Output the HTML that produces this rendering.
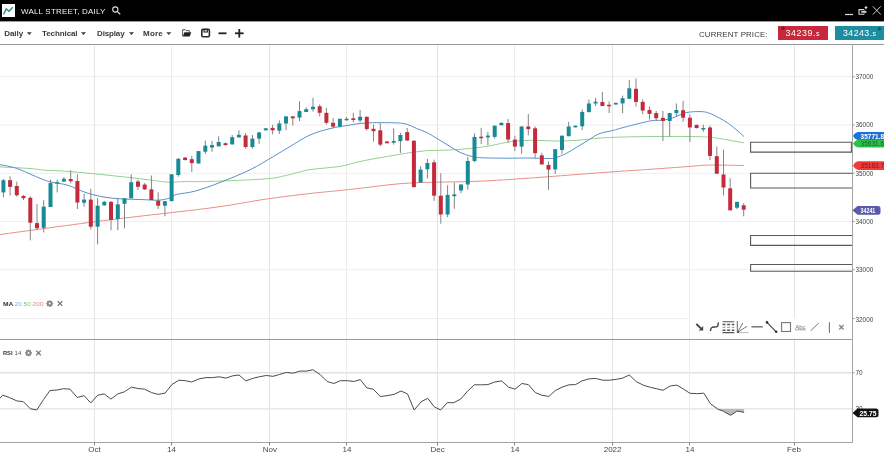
<!DOCTYPE html>
<html><head><meta charset="utf-8">
<style>
html,body{margin:0;padding:0;background:#fff;}
body{width:884px;height:459px;overflow:hidden;position:relative;font-family:"Liberation Sans",sans-serif;}
svg{position:absolute;left:0;top:0;will-change:transform;}
</style></head><body>
<svg width="884" height="459" viewBox="0 0 884 459" font-family="&quot;Liberation Sans&quot;, sans-serif">

<!-- title bar -->
<rect x="0" y="0" width="884" height="21" fill="#000"/>
<rect x="0" y="21" width="884" height="1" fill="#9a9a9a"/>
<rect x="2" y="4" width="13" height="13" fill="#fff"/>
<polyline points="3.6,14.4 6.2,8.9 9.1,11.3 12.7,7.2" fill="none" stroke="#2a8a8a" stroke-width="1.3"/>
<text x="21" y="14.1" fill="#eee" font-size="8" textLength="84.3" lengthAdjust="spacing">WALL STREET, DAILY</text>
<circle cx="115.3" cy="9.5" r="2.6" fill="none" stroke="#ddd" stroke-width="1.1"/>
<line x1="117.2" y1="11.4" x2="120.2" y2="14.3" stroke="#ddd" stroke-width="1.3"/>
<!-- window controls -->
<line x1="845" y1="14.5" x2="853" y2="14.5" stroke="#ddd" stroke-width="1.2"/>
<path d="M863.7 10.3 V9.6 H859 V14.3 H863.7 V13.6" fill="none" stroke="#ddd" stroke-width="1.1"/>
<path d="M861.2 11.1 H864.5 V10 L867 11.9 L864.5 13.8 V12.7 H861.2 Z" fill="#ccc"/>
<path d="M866 6 L867.6 7.6 L866 9.2 L864.4 7.6 Z" fill="#ddd"/>
<path d="M872.8 6.3 L880.8 14.6 M880.8 6.3 L872.8 14.6" stroke="#ccc" stroke-width="1"/>

<!-- toolbar -->
<g font-size="8" font-weight="bold" fill="#3a3a3a">
<text x="4.2" y="35.7" textLength="19">Daily</text>
<text x="42" y="35.7" textLength="35.6">Technical</text>
<text x="97" y="35.7" textLength="27.6">Display</text>
<text x="143.1" y="35.7" textLength="19.6">More</text>
</g>
<g fill="#3a3a3a">
<path d="M26.8 32.3 h5 l-2.5 2.8z"/>
<path d="M81 32.3 h5 l-2.5 2.8z"/>
<path d="M129 32.3 h5 l-2.5 2.8z"/>
<path d="M166.3 32.3 h5 l-2.5 2.8z"/>
</g>
<!-- folder -->
<path d="M182.6 36.3 V29.7 H185.4 L186.2 30.6 H189.3 V32" fill="none" stroke="#444" stroke-width="0.9"/>
<path d="M182.8 36.6 L184.4 32.3 H191.3 L189.7 36.6 Z" fill="#222"/>
<!-- save -->
<rect x="201.8" y="29.4" width="7.6" height="7.4" rx="1.2" fill="none" stroke="#2a2a2a" stroke-width="1.6"/>
<rect x="204" y="29.4" width="3.4" height="2.6" fill="none" stroke="#2a2a2a" stroke-width="1.1"/>
<!-- minus / plus -->
<rect x="218.5" y="32.4" width="8" height="1.8" fill="#222"/>
<rect x="235" y="32.4" width="8.6" height="1.8" fill="#222"/>
<rect x="238.4" y="29" width="1.8" height="8.6" fill="#222"/>

<text x="699" y="36.7" fill="#3a3a3a" font-size="7.9" textLength="68.6" lengthAdjust="spacing">CURRENT PRICE:</text>
<rect x="778" y="26" width="50" height="14" fill="#c9283c"/>
<rect x="835" y="26" width="49" height="14" fill="#1c8e9f"/>
<circle cx="783" cy="28.3" r="1.7" fill="#8a1426"/>
<circle cx="879.3" cy="28.7" r="1.7" fill="#0f5a66"/>
<text x="785.5" y="35.8" fill="#fff" font-size="8.8" textLength="34" lengthAdjust="spacing">34239.<tspan font-size="7">s</tspan></text>
<text x="843" y="35.8" fill="#fff" font-size="8.8" textLength="33" lengthAdjust="spacing">34243.<tspan font-size="7">s</tspan></text>
<rect x="0" y="44" width="884" height="1" fill="#9a9a9a"/>

<!-- grid -->
<g stroke="#efefef" stroke-width="1">
<line x1="0" y1="76.7" x2="852" y2="76.7"/>
<line x1="0" y1="125" x2="852" y2="125"/>
<line x1="0" y1="173.3" x2="852" y2="173.3"/>
<line x1="0" y1="221.5" x2="852" y2="221.5"/>
<line x1="0" y1="269.7" x2="852" y2="269.7"/>
<line x1="0" y1="318.5" x2="852" y2="318.5"/>
<line x1="0" y1="372.7" x2="852" y2="372.7" stroke="#e2e2e2" stroke-width="1.4"/>
<line x1="0" y1="408.9" x2="852" y2="408.9" stroke="#e2e2e2" stroke-width="1.4"/>
</g>
<g stroke="#e4e4e4" stroke-width="1">
<line x1="94.5" y1="45" x2="94.5" y2="444"/>
<line x1="269.5" y1="45" x2="269.5" y2="444"/>
<line x1="437.5" y1="45" x2="437.5" y2="444"/>
<line x1="612.5" y1="45" x2="612.5" y2="444"/>
<line x1="794.5" y1="45" x2="794.5" y2="444"/>
</g>
<g stroke="#ececec" stroke-width="1">
<line x1="171.5" y1="45" x2="171.5" y2="444"/>
<line x1="346.5" y1="45" x2="346.5" y2="444"/>
<line x1="514.5" y1="45" x2="514.5" y2="444"/>
<line x1="689.5" y1="45" x2="689.5" y2="444"/>
</g>
<rect x="852" y="45" width="1" height="397" fill="#a6a6a6"/>
<rect x="0" y="339" width="852" height="1" fill="#9c9c9c"/>
<rect x="0" y="442" width="853" height="1" fill="#a4a4a4"/>

<!-- price axis labels -->
<g font-size="6.4" fill="#454545">
<text x="855.5" y="78.8">37000</text>
<text x="855.5" y="127.2">36000</text>
<text x="855.5" y="175.5">35000</text>
<text x="855.5" y="224">34000</text>
<text x="855.5" y="272.2">33000</text>
<text x="855.5" y="321.5">32000</text>
<text x="855.5" y="374.9">70</text>
<text x="855.5" y="411.2">30</text>
</g>
<g stroke="#999" stroke-width="1">
<line x1="852" y1="76.7" x2="854.5" y2="76.7"/>
<line x1="852" y1="125" x2="854.5" y2="125"/>
<line x1="852" y1="173.3" x2="854.5" y2="173.3"/>
<line x1="852" y1="221.5" x2="854.5" y2="221.5"/>
<line x1="852" y1="269.7" x2="854.5" y2="269.7"/>
<line x1="852" y1="318.5" x2="854.5" y2="318.5"/>
<line x1="852" y1="372.7" x2="854.5" y2="372.7"/>
</g>

<!-- date labels -->
<g stroke="#8a8a8a" stroke-width="1"><path d="M94.5 442 V445.5 M171.5 442 V445.5 M269.5 442 V445.5 M346.5 442 V445.5 M437.5 442 V445.5 M514.5 442 V445.5 M612.5 442 V445.5 M689.5 442 V445.5 M794.5 442 V445.5"/></g>
<g font-size="8" fill="#484848" text-anchor="middle">
<text x="94.5" y="452.1">Oct</text>
<text x="171.5" y="452.1">14</text>
<text x="269.8" y="452.1">Nov</text>
<text x="347" y="452.1">14</text>
<text x="437.7" y="452.1">Dec</text>
<text x="515" y="452.1">14</text>
<text x="612.6" y="452.1">2022</text>
<text x="690" y="452.1">14</text>
<text x="794" y="452.1">Feb</text>
</g>

<!-- MA lines -->
<path d="M0.0 234.5 C18.3 232.1 75.0 224.2 110.0 219.8 C145.0 215.4 184.1 211.4 210.0 208.0 C235.9 204.6 248.7 201.6 265.4 199.2 C282.1 196.8 297.6 194.9 310.0 193.5 C322.4 192.1 331.7 191.4 340.0 190.5 C348.3 189.6 348.3 189.6 360.0 188.3 C371.7 187.1 388.3 184.3 410.0 183.0 C431.7 181.7 456.7 182.5 490.0 180.7 C523.3 178.9 583.3 173.9 610.0 172.0 C636.7 170.1 636.8 170.2 650.0 169.3 C663.2 168.4 679.2 167.2 689.0 166.5 C698.8 165.8 699.5 165.3 708.6 165.1 C717.8 164.9 738.0 165.4 743.9 165.5" fill="none" stroke="#e98e87" stroke-width="1"/>
<path d="M0.0 166.9 C5.0 167.2 22.5 167.9 30.0 168.5 C37.5 169.1 40.0 169.8 45.0 170.2 C50.0 170.6 53.2 170.4 60.0 170.9 C66.8 171.4 75.7 172.0 86.0 173.0 C96.3 174.0 111.4 175.5 122.0 176.7 C132.6 177.8 141.8 179.0 149.5 179.9 C157.2 180.8 162.1 181.9 168.0 182.2 C173.9 182.5 178.0 181.7 185.0 181.6 C192.0 181.5 196.6 181.8 210.0 181.4 C223.4 181.0 252.5 179.9 265.4 178.9 C278.3 177.9 279.9 176.7 287.2 175.2 C294.5 173.7 300.2 171.3 309.0 169.8 C317.8 168.3 331.5 167.8 340.0 166.4 C348.5 165.0 352.7 163.1 360.0 161.5 C367.3 159.9 376.0 158.4 383.6 157.1 C391.2 155.8 398.1 154.5 405.4 153.4 C412.7 152.3 419.9 151.2 427.2 150.6 C434.5 150.0 441.7 150.5 449.0 150.1 C456.3 149.7 464.0 149.1 470.8 148.4 C477.6 147.7 483.2 147.0 490.0 145.8 C496.8 144.6 504.5 142.3 511.8 141.4 C519.1 140.5 526.3 140.4 533.6 140.3 C540.9 140.2 548.1 141.0 555.4 141.0 C562.7 141.0 569.9 140.8 577.2 140.3 C584.5 139.8 591.7 138.6 599.0 138.1 C606.3 137.6 612.3 137.3 620.8 137.1 C629.3 136.8 638.6 136.7 650.0 136.6 C661.4 136.5 679.2 136.4 689.0 136.5 C698.8 136.6 703.0 136.7 708.6 137.1 C714.2 137.5 716.5 138.0 722.4 139.0 C728.3 140.0 740.3 142.2 743.9 142.9" fill="none" stroke="#92d190" stroke-width="1"/>
<path d="M0.0 164.7 C1.7 165.0 6.7 165.8 10.0 166.6 C13.3 167.4 15.0 167.6 20.0 169.6 C25.0 171.6 35.0 176.3 40.0 178.3 C45.0 180.3 45.3 180.6 50.0 181.8 C54.7 183.0 62.0 183.5 68.0 185.3 C74.0 187.1 80.0 190.6 86.0 192.6 C92.0 194.6 98.0 196.0 104.0 197.1 C110.0 198.2 115.9 198.5 122.0 198.9 C128.1 199.3 134.4 199.3 140.5 199.5 C146.6 199.7 153.8 200.4 158.6 200.2 C163.4 199.9 166.5 199.0 169.5 198.0 C172.5 197.0 172.5 195.5 176.7 194.4 C180.9 193.3 187.6 193.2 194.8 191.2 C202.0 189.2 210.8 186.1 220.0 182.5 C229.2 178.9 241.2 174.1 250.0 169.8 C258.8 165.6 265.8 160.9 272.5 157.0 C279.2 153.1 283.8 150.2 290.0 146.5 C296.2 142.8 303.3 138.0 310.0 135.0 C316.7 132.0 323.9 130.2 330.0 128.6 C336.1 127.0 340.6 126.5 346.5 125.6 C352.4 124.7 357.5 123.5 365.5 123.0 C373.5 122.5 387.7 122.6 394.5 122.8 C401.3 123.0 402.9 123.3 406.5 124.2 C410.1 125.1 412.9 126.9 416.3 128.3 C419.8 129.7 423.6 130.9 427.2 132.7 C430.8 134.5 434.5 137.0 438.1 139.2 C441.7 141.4 445.4 143.6 449.0 145.8 C452.6 148.0 456.3 150.6 459.9 152.3 C463.5 154.0 467.2 155.3 470.8 156.2 C474.4 157.1 474.9 157.5 481.7 157.8 C488.5 158.1 503.8 158.2 511.8 158.2 C519.9 158.2 524.0 157.9 530.0 158.0 C536.0 158.1 543.8 158.5 548.0 158.5 C552.2 158.5 552.4 158.7 555.4 157.8 C558.4 157.0 562.7 155.2 566.3 153.4 C569.9 151.6 573.6 149.1 577.2 146.9 C580.8 144.7 584.5 142.5 588.1 140.3 C591.7 138.1 594.9 135.4 599.0 133.8 C603.1 132.2 608.4 131.6 612.7 130.5 C617.0 129.4 618.7 128.7 624.9 127.1 C631.1 125.5 643.6 122.2 649.8 121.0 C656.0 119.8 658.4 120.7 662.2 120.2 C666.0 119.7 668.4 119.2 672.4 118.0 C676.4 116.8 681.4 113.8 686.0 112.7 C690.6 111.6 696.2 111.6 700.0 111.6 C703.8 111.6 705.5 111.9 708.6 112.9 C711.7 113.9 715.1 115.8 718.4 117.5 C721.7 119.2 724.9 121.0 728.2 123.3 C731.5 125.6 735.4 129.0 738.0 131.2 C740.6 133.4 742.9 135.6 743.9 136.5" fill="none" stroke="#5790c8" stroke-width="1"/>

<!-- candles -->
<line x1="3.4" y1="179.0" x2="3.4" y2="197.3" stroke="#7e8283" stroke-width="1"/>
<rect x="1.4" y="180.2" width="4" height="12.2" fill="#188a96"/>
<line x1="10.1" y1="176.3" x2="10.1" y2="195.7" stroke="#858585" stroke-width="1"/>
<rect x="8.1" y="180.2" width="4" height="6.7" fill="#c42a3b"/>
<line x1="16.8" y1="181.6" x2="16.8" y2="196.7" stroke="#858585" stroke-width="1"/>
<rect x="14.8" y="186.0" width="4" height="9.3" fill="#c42a3b"/>
<line x1="23.5" y1="195.0" x2="23.5" y2="200.0" stroke="#858585" stroke-width="1"/>
<rect x="21.5" y="195.9" width="4" height="2.3" fill="#c42a3b"/>
<line x1="30.3" y1="196.3" x2="30.3" y2="240.4" stroke="#858585" stroke-width="1"/>
<rect x="28.3" y="197.8" width="4" height="24.9" fill="#c42a3b"/>
<line x1="37.0" y1="204.0" x2="37.0" y2="230.0" stroke="#858585" stroke-width="1"/>
<rect x="35.0" y="223.1" width="4" height="5.1" fill="#c42a3b"/>
<line x1="43.7" y1="200.2" x2="43.7" y2="232.5" stroke="#7e8283" stroke-width="1"/>
<rect x="41.7" y="206.7" width="4" height="21.1" fill="#188a96"/>
<line x1="50.5" y1="179.6" x2="50.5" y2="207.0" stroke="#7e8283" stroke-width="1"/>
<rect x="48.5" y="183.1" width="4" height="23.9" fill="#188a96"/>
<line x1="57.2" y1="179.6" x2="57.2" y2="192.4" stroke="#7e8283" stroke-width="1"/>
<rect x="55.2" y="182.2" width="4" height="1.5" fill="#188a96"/>
<line x1="63.9" y1="177.0" x2="63.9" y2="182.0" stroke="#7e8283" stroke-width="1"/>
<rect x="61.9" y="178.8" width="4" height="2.8" fill="#188a96"/>
<line x1="70.7" y1="170.2" x2="70.7" y2="183.5" stroke="#858585" stroke-width="1"/>
<rect x="68.7" y="179.0" width="4" height="2.2" fill="#c42a3b"/>
<line x1="77.4" y1="174.3" x2="77.4" y2="209.0" stroke="#858585" stroke-width="1"/>
<rect x="75.4" y="181.0" width="4" height="21.5" fill="#c42a3b"/>
<line x1="84.1" y1="193.7" x2="84.1" y2="206.7" stroke="#7e8283" stroke-width="1"/>
<rect x="82.1" y="199.6" width="4" height="3.1" fill="#188a96"/>
<line x1="90.8" y1="188.8" x2="90.8" y2="229.6" stroke="#858585" stroke-width="1"/>
<rect x="88.8" y="199.6" width="4" height="27.1" fill="#c42a3b"/>
<line x1="97.6" y1="198.2" x2="97.6" y2="244.3" stroke="#7e8283" stroke-width="1"/>
<rect x="95.6" y="205.7" width="4" height="21.0" fill="#188a96"/>
<line x1="104.3" y1="201.0" x2="104.3" y2="206.0" stroke="#7e8283" stroke-width="1"/>
<rect x="102.3" y="201.8" width="4" height="3.5" fill="#188a96"/>
<line x1="111.0" y1="201.0" x2="111.0" y2="230.2" stroke="#858585" stroke-width="1"/>
<rect x="109.0" y="201.9" width="4" height="18.0" fill="#c42a3b"/>
<line x1="117.8" y1="198.3" x2="117.8" y2="230.2" stroke="#7e8283" stroke-width="1"/>
<rect x="115.8" y="204.3" width="4" height="14.8" fill="#188a96"/>
<line x1="124.5" y1="198.0" x2="124.5" y2="228.3" stroke="#7e8283" stroke-width="1"/>
<rect x="122.5" y="198.3" width="4" height="5.5" fill="#188a96"/>
<line x1="131.2" y1="174.3" x2="131.2" y2="198.3" stroke="#7e8283" stroke-width="1"/>
<rect x="129.2" y="182.2" width="4" height="16.1" fill="#188a96"/>
<line x1="138.0" y1="179.8" x2="138.0" y2="189.9" stroke="#858585" stroke-width="1"/>
<rect x="136.0" y="181.5" width="4" height="5.3" fill="#c42a3b"/>
<line x1="144.7" y1="183.0" x2="144.7" y2="190.0" stroke="#858585" stroke-width="1"/>
<rect x="142.7" y="184.6" width="4" height="4.8" fill="#c42a3b"/>
<line x1="151.4" y1="175.5" x2="151.4" y2="200.0" stroke="#858585" stroke-width="1"/>
<rect x="149.4" y="189.4" width="4" height="10.6" fill="#c42a3b"/>
<line x1="158.2" y1="192.3" x2="158.2" y2="209.0" stroke="#858585" stroke-width="1"/>
<rect x="156.2" y="200.7" width="4" height="5.0" fill="#c42a3b"/>
<line x1="164.9" y1="201.0" x2="164.9" y2="216.3" stroke="#7e8283" stroke-width="1"/>
<rect x="162.9" y="201.2" width="4" height="4.5" fill="#188a96"/>
<line x1="171.6" y1="174.0" x2="171.6" y2="201.2" stroke="#7e8283" stroke-width="1"/>
<rect x="169.6" y="174.3" width="4" height="26.9" fill="#188a96"/>
<line x1="178.3" y1="158.0" x2="178.3" y2="176.7" stroke="#7e8283" stroke-width="1"/>
<rect x="176.3" y="158.8" width="4" height="16.2" fill="#188a96"/>
<line x1="185.1" y1="157.0" x2="185.1" y2="160.5" stroke="#858585" stroke-width="1"/>
<rect x="183.1" y="157.6" width="4" height="2.4" fill="#c42a3b"/>
<line x1="191.8" y1="155.9" x2="191.8" y2="172.0" stroke="#858585" stroke-width="1"/>
<rect x="189.8" y="159.2" width="4" height="3.9" fill="#c42a3b"/>
<line x1="198.5" y1="151.0" x2="198.5" y2="163.5" stroke="#7e8283" stroke-width="1"/>
<rect x="196.5" y="151.1" width="4" height="12.4" fill="#188a96"/>
<line x1="205.3" y1="140.5" x2="205.3" y2="154.0" stroke="#7e8283" stroke-width="1"/>
<rect x="203.3" y="145.7" width="4" height="6.0" fill="#188a96"/>
<line x1="212.0" y1="141.0" x2="212.0" y2="151.8" stroke="#7e8283" stroke-width="1"/>
<rect x="210.0" y="145.1" width="4" height="2.4" fill="#188a96"/>
<line x1="218.7" y1="136.2" x2="218.7" y2="146.5" stroke="#7e8283" stroke-width="1"/>
<rect x="216.7" y="142.0" width="4" height="4.3" fill="#188a96"/>
<line x1="225.5" y1="142.5" x2="225.5" y2="145.5" stroke="#858585" stroke-width="1"/>
<rect x="223.5" y="143.2" width="4" height="1.9" fill="#c42a3b"/>
<line x1="232.2" y1="135.0" x2="232.2" y2="144.5" stroke="#7e8283" stroke-width="1"/>
<rect x="230.2" y="137.2" width="4" height="7.2" fill="#188a96"/>
<line x1="238.9" y1="130.3" x2="238.9" y2="137.5" stroke="#7e8283" stroke-width="1"/>
<rect x="236.9" y="134.8" width="4" height="2.6" fill="#188a96"/>
<line x1="245.6" y1="133.1" x2="245.6" y2="148.7" stroke="#858585" stroke-width="1"/>
<rect x="243.6" y="135.5" width="4" height="11.5" fill="#c42a3b"/>
<line x1="252.4" y1="135.0" x2="252.4" y2="148.7" stroke="#7e8283" stroke-width="1"/>
<rect x="250.4" y="138.6" width="4" height="8.4" fill="#188a96"/>
<line x1="259.1" y1="132.0" x2="259.1" y2="143.9" stroke="#7e8283" stroke-width="1"/>
<rect x="257.1" y="132.4" width="4" height="6.2" fill="#188a96"/>
<line x1="265.8" y1="128.0" x2="265.8" y2="130.5" stroke="#7e8283" stroke-width="1"/>
<rect x="263.8" y="128.3" width="4" height="2.0" fill="#188a96"/>
<line x1="272.6" y1="124.7" x2="272.6" y2="134.3" stroke="#858585" stroke-width="1"/>
<rect x="270.6" y="127.9" width="4" height="2.4" fill="#c42a3b"/>
<line x1="279.3" y1="120.4" x2="279.3" y2="133.9" stroke="#7e8283" stroke-width="1"/>
<rect x="277.3" y="123.5" width="4" height="7.2" fill="#188a96"/>
<line x1="286.0" y1="116.0" x2="286.0" y2="130.0" stroke="#7e8283" stroke-width="1"/>
<rect x="284.0" y="116.4" width="4" height="7.1" fill="#188a96"/>
<line x1="292.8" y1="116.0" x2="292.8" y2="125.5" stroke="#858585" stroke-width="1"/>
<rect x="290.8" y="116.4" width="4" height="1.9" fill="#c42a3b"/>
<line x1="299.5" y1="101.3" x2="299.5" y2="121.2" stroke="#7e8283" stroke-width="1"/>
<rect x="297.5" y="111.1" width="4" height="6.5" fill="#188a96"/>
<line x1="306.2" y1="107.3" x2="306.2" y2="112.2" stroke="#7e8283" stroke-width="1"/>
<rect x="304.2" y="109.2" width="4" height="2.8" fill="#188a96"/>
<line x1="313.0" y1="97.9" x2="313.0" y2="111.6" stroke="#7e8283" stroke-width="1"/>
<rect x="311.0" y="106.8" width="4" height="2.4" fill="#188a96"/>
<line x1="319.7" y1="104.4" x2="319.7" y2="116.4" stroke="#858585" stroke-width="1"/>
<rect x="317.7" y="106.3" width="4" height="6.5" fill="#c42a3b"/>
<line x1="326.4" y1="108.0" x2="326.4" y2="124.7" stroke="#858585" stroke-width="1"/>
<rect x="324.4" y="112.8" width="4" height="10.0" fill="#c42a3b"/>
<line x1="333.1" y1="118.0" x2="333.1" y2="128.3" stroke="#858585" stroke-width="1"/>
<rect x="331.1" y="122.8" width="4" height="3.9" fill="#c42a3b"/>
<line x1="339.9" y1="118.5" x2="339.9" y2="127.6" stroke="#7e8283" stroke-width="1"/>
<rect x="337.9" y="118.8" width="4" height="7.9" fill="#188a96"/>
<line x1="346.6" y1="117.0" x2="346.6" y2="120.5" stroke="#7e8283" stroke-width="1"/>
<rect x="344.6" y="118.8" width="4" height="1.5" fill="#188a96"/>
<line x1="353.3" y1="112.8" x2="353.3" y2="122.4" stroke="#858585" stroke-width="1"/>
<rect x="351.3" y="118.3" width="4" height="1.7" fill="#c42a3b"/>
<line x1="360.1" y1="109.9" x2="360.1" y2="122.4" stroke="#7e8283" stroke-width="1"/>
<rect x="358.1" y="116.8" width="4" height="3.6" fill="#188a96"/>
<line x1="366.8" y1="116.5" x2="366.8" y2="130.7" stroke="#858585" stroke-width="1"/>
<rect x="364.8" y="116.8" width="4" height="12.2" fill="#c42a3b"/>
<line x1="373.5" y1="124.7" x2="373.5" y2="141.5" stroke="#858585" stroke-width="1"/>
<rect x="371.5" y="128.8" width="4" height="2.4" fill="#c42a3b"/>
<line x1="380.3" y1="123.0" x2="380.3" y2="146.3" stroke="#858585" stroke-width="1"/>
<rect x="378.3" y="130.3" width="4" height="14.3" fill="#c42a3b"/>
<line x1="387.0" y1="141.0" x2="387.0" y2="143.5" stroke="#858585" stroke-width="1"/>
<rect x="385.0" y="141.5" width="4" height="1.7" fill="#c42a3b"/>
<line x1="393.7" y1="128.3" x2="393.7" y2="144.6" stroke="#7e8283" stroke-width="1"/>
<rect x="391.7" y="141.0" width="4" height="1.7" fill="#188a96"/>
<line x1="400.4" y1="132.7" x2="400.4" y2="153.0" stroke="#7e8283" stroke-width="1"/>
<rect x="398.4" y="135.0" width="4" height="6.2" fill="#188a96"/>
<line x1="407.2" y1="128.0" x2="407.2" y2="140.8" stroke="#858585" stroke-width="1"/>
<rect x="405.2" y="132.1" width="4" height="8.4" fill="#c42a3b"/>
<line x1="413.9" y1="140.0" x2="413.9" y2="187.5" stroke="#858585" stroke-width="1"/>
<rect x="411.9" y="140.8" width="4" height="46.3" fill="#c42a3b"/>
<line x1="420.6" y1="166.2" x2="420.6" y2="182.8" stroke="#7e8283" stroke-width="1"/>
<rect x="418.6" y="169.6" width="4" height="13.0" fill="#188a96"/>
<line x1="427.4" y1="158.9" x2="427.4" y2="178.5" stroke="#7e8283" stroke-width="1"/>
<rect x="425.4" y="163.0" width="4" height="6.3" fill="#188a96"/>
<line x1="434.1" y1="159.6" x2="434.1" y2="200.9" stroke="#858585" stroke-width="1"/>
<rect x="432.1" y="162.3" width="4" height="33.4" fill="#c42a3b"/>
<line x1="440.8" y1="173.2" x2="440.8" y2="223.7" stroke="#858585" stroke-width="1"/>
<rect x="438.8" y="195.7" width="4" height="18.8" fill="#c42a3b"/>
<line x1="447.6" y1="185.3" x2="447.6" y2="217.1" stroke="#7e8283" stroke-width="1"/>
<rect x="445.6" y="194.9" width="4" height="19.6" fill="#188a96"/>
<line x1="454.3" y1="182.6" x2="454.3" y2="208.8" stroke="#7e8283" stroke-width="1"/>
<rect x="452.3" y="194.4" width="4" height="1.8" fill="#188a96"/>
<line x1="461.0" y1="184.3" x2="461.0" y2="193.1" stroke="#7e8283" stroke-width="1"/>
<rect x="459.0" y="184.5" width="4" height="6.0" fill="#188a96"/>
<line x1="467.8" y1="157.0" x2="467.8" y2="189.7" stroke="#7e8283" stroke-width="1"/>
<rect x="465.8" y="161.0" width="4" height="23.5" fill="#188a96"/>
<line x1="474.5" y1="133.5" x2="474.5" y2="162.3" stroke="#7e8283" stroke-width="1"/>
<rect x="472.5" y="136.9" width="4" height="24.1" fill="#188a96"/>
<line x1="481.2" y1="127.8" x2="481.2" y2="144.0" stroke="#858585" stroke-width="1"/>
<rect x="479.2" y="136.7" width="4" height="1.5" fill="#c42a3b"/>
<line x1="487.9" y1="131.7" x2="487.9" y2="145.3" stroke="#7e8283" stroke-width="1"/>
<rect x="485.9" y="135.6" width="4" height="1.8" fill="#188a96"/>
<line x1="494.7" y1="125.5" x2="494.7" y2="138.7" stroke="#7e8283" stroke-width="1"/>
<rect x="492.7" y="125.7" width="4" height="11.2" fill="#188a96"/>
<line x1="501.4" y1="122.5" x2="501.4" y2="125.5" stroke="#7e8283" stroke-width="1"/>
<rect x="499.4" y="122.8" width="4" height="2.4" fill="#188a96"/>
<line x1="508.1" y1="119.1" x2="508.1" y2="142.7" stroke="#858585" stroke-width="1"/>
<rect x="506.1" y="123.1" width="4" height="16.4" fill="#c42a3b"/>
<line x1="514.9" y1="135.7" x2="514.9" y2="151.1" stroke="#858585" stroke-width="1"/>
<rect x="512.9" y="139.6" width="4" height="7.0" fill="#c42a3b"/>
<line x1="521.6" y1="126.3" x2="521.6" y2="153.7" stroke="#7e8283" stroke-width="1"/>
<rect x="519.6" y="126.5" width="4" height="20.1" fill="#188a96"/>
<line x1="528.3" y1="114.0" x2="528.3" y2="135.4" stroke="#858585" stroke-width="1"/>
<rect x="526.3" y="126.5" width="4" height="2.6" fill="#c42a3b"/>
<line x1="535.1" y1="126.3" x2="535.1" y2="158.4" stroke="#858585" stroke-width="1"/>
<rect x="533.1" y="128.3" width="4" height="24.9" fill="#c42a3b"/>
<line x1="541.8" y1="152.6" x2="541.8" y2="164.6" stroke="#858585" stroke-width="1"/>
<rect x="539.8" y="155.3" width="4" height="9.1" fill="#c42a3b"/>
<line x1="548.5" y1="161.5" x2="548.5" y2="189.7" stroke="#858585" stroke-width="1"/>
<rect x="546.5" y="164.9" width="4" height="4.7" fill="#c42a3b"/>
<line x1="555.2" y1="149.0" x2="555.2" y2="174.0" stroke="#7e8283" stroke-width="1"/>
<rect x="553.2" y="149.2" width="4" height="20.2" fill="#188a96"/>
<line x1="562.0" y1="135.5" x2="562.0" y2="153.7" stroke="#7e8283" stroke-width="1"/>
<rect x="560.0" y="135.7" width="4" height="14.3" fill="#188a96"/>
<line x1="568.7" y1="121.8" x2="568.7" y2="136.4" stroke="#7e8283" stroke-width="1"/>
<rect x="566.7" y="126.5" width="4" height="9.7" fill="#188a96"/>
<line x1="575.4" y1="125.5" x2="575.4" y2="127.5" stroke="#7e8283" stroke-width="1"/>
<rect x="573.4" y="125.7" width="4" height="1.6" fill="#188a96"/>
<line x1="582.2" y1="109.3" x2="582.2" y2="130.2" stroke="#7e8283" stroke-width="1"/>
<rect x="580.2" y="111.9" width="4" height="14.4" fill="#188a96"/>
<line x1="588.9" y1="99.6" x2="588.9" y2="112.3" stroke="#7e8283" stroke-width="1"/>
<rect x="586.9" y="103.5" width="4" height="8.6" fill="#188a96"/>
<line x1="595.6" y1="97.8" x2="595.6" y2="106.1" stroke="#7e8283" stroke-width="1"/>
<rect x="593.6" y="101.7" width="4" height="1.8" fill="#188a96"/>
<line x1="602.4" y1="92.0" x2="602.4" y2="106.2" stroke="#858585" stroke-width="1"/>
<rect x="600.4" y="102.0" width="4" height="4.0" fill="#c42a3b"/>
<line x1="609.1" y1="101.4" x2="609.1" y2="113.1" stroke="#858585" stroke-width="1"/>
<rect x="607.1" y="104.8" width="4" height="1.5" fill="#c42a3b"/>
<line x1="615.8" y1="102.7" x2="615.8" y2="104.7" stroke="#7e8283" stroke-width="1"/>
<rect x="613.8" y="102.9" width="4" height="1.6" fill="#188a96"/>
<line x1="622.6" y1="95.6" x2="622.6" y2="113.1" stroke="#7e8283" stroke-width="1"/>
<rect x="620.6" y="98.2" width="4" height="5.2" fill="#188a96"/>
<line x1="629.3" y1="79.9" x2="629.3" y2="98.9" stroke="#7e8283" stroke-width="1"/>
<rect x="627.3" y="88.3" width="4" height="10.4" fill="#188a96"/>
<line x1="636.0" y1="78.6" x2="636.0" y2="106.6" stroke="#858585" stroke-width="1"/>
<rect x="634.0" y="88.8" width="4" height="13.1" fill="#c42a3b"/>
<line x1="642.7" y1="99.3" x2="642.7" y2="114.4" stroke="#858585" stroke-width="1"/>
<rect x="640.7" y="101.9" width="4" height="8.6" fill="#c42a3b"/>
<line x1="649.5" y1="106.6" x2="649.5" y2="119.6" stroke="#858585" stroke-width="1"/>
<rect x="647.5" y="110.0" width="4" height="3.9" fill="#c42a3b"/>
<line x1="656.2" y1="111.0" x2="656.2" y2="121.0" stroke="#858585" stroke-width="1"/>
<rect x="654.2" y="113.1" width="4" height="5.2" fill="#c42a3b"/>
<line x1="662.9" y1="111.0" x2="662.9" y2="141.1" stroke="#858585" stroke-width="1"/>
<rect x="660.9" y="117.8" width="4" height="3.2" fill="#c42a3b"/>
<line x1="669.7" y1="112.9" x2="669.7" y2="136.6" stroke="#7e8283" stroke-width="1"/>
<rect x="667.7" y="113.1" width="4" height="7.9" fill="#188a96"/>
<line x1="676.4" y1="103.4" x2="676.4" y2="116.5" stroke="#7e8283" stroke-width="1"/>
<rect x="674.4" y="110.0" width="4" height="3.1" fill="#188a96"/>
<line x1="683.1" y1="100.8" x2="683.1" y2="121.7" stroke="#858585" stroke-width="1"/>
<rect x="681.1" y="110.2" width="4" height="7.5" fill="#c42a3b"/>
<line x1="689.9" y1="114.4" x2="689.9" y2="141.9" stroke="#858585" stroke-width="1"/>
<rect x="687.9" y="117.7" width="4" height="9.8" fill="#c42a3b"/>
<line x1="696.6" y1="124.7" x2="696.6" y2="128.3" stroke="#858585" stroke-width="1"/>
<rect x="694.6" y="124.9" width="4" height="3.2" fill="#c42a3b"/>
<line x1="703.3" y1="124.5" x2="703.3" y2="131.8" stroke="#7e8283" stroke-width="1"/>
<rect x="701.3" y="128.0" width="4" height="1.5" fill="#188a96"/>
<line x1="710.0" y1="125.6" x2="710.0" y2="160.1" stroke="#858585" stroke-width="1"/>
<rect x="708.0" y="127.5" width="4" height="28.4" fill="#c42a3b"/>
<line x1="716.8" y1="146.5" x2="716.8" y2="173.9" stroke="#858585" stroke-width="1"/>
<rect x="714.8" y="156.2" width="4" height="17.5" fill="#c42a3b"/>
<line x1="723.5" y1="149.6" x2="723.5" y2="195.4" stroke="#858585" stroke-width="1"/>
<rect x="721.5" y="174.5" width="4" height="13.0" fill="#c42a3b"/>
<line x1="730.2" y1="178.4" x2="730.2" y2="210.5" stroke="#858585" stroke-width="1"/>
<rect x="728.2" y="188.3" width="4" height="22.0" fill="#c42a3b"/>
<line x1="737.0" y1="201.7" x2="737.0" y2="209.2" stroke="#7e8283" stroke-width="1"/>
<rect x="735.0" y="201.9" width="4" height="5.8" fill="#188a96"/>
<line x1="743.7" y1="203.2" x2="743.7" y2="216.3" stroke="#858585" stroke-width="1"/>
<rect x="741.7" y="205.3" width="4" height="4.4" fill="#c42a3b"/>

<!-- rectangles -->
<g fill="none" stroke="#5a5a5a" stroke-width="1.1">
<path d="M852 142.3 H750.6 V152.1 H852 M851.4 142.3 V152.1"/>
<path d="M852 173.2 H750.6 V188 H852"/>
<path d="M852 235.5 H750.6 V245.4 H852"/>
<path d="M852 264.5 H750.6 V271.2 H852"/>
</g>

<!-- price tags -->
<path d="M853 136 Q855.5 132 858.5 132 H884 V140 H858.5 Q855.5 140 853 136 Z" fill="#1a73d9"/>
<text x="860.6" y="138.8" font-size="6.8" font-weight="bold" fill="#fff" textLength="23.4" lengthAdjust="spacingAndGlyphs">35771.8</text>
<path d="M853 143.6 Q855.5 139.7 858.5 139.7 H884 V147.6 H858.5 Q855.5 147.6 853 143.6 Z" fill="#2fc04c"/>
<text x="860.6" y="146.3" font-size="6.8" fill="#1f5a2a" textLength="23.4" lengthAdjust="spacingAndGlyphs">35631.6</text>
<path d="M853 165.6 Q855.5 161.2 858.5 161.2 H884 V169.9 H858.5 Q855.5 169.9 853 165.6 Z" fill="#ef3b3b"/>
<text x="860.6" y="168.4" font-size="6.8" fill="#7a1818" textLength="23.4" lengthAdjust="spacingAndGlyphs">35183.7</text>
<path d="M852.5 210.3 L857.5 206 H878 Q880.5 206 880.5 208.5 V212.2 Q880.5 214.7 878 214.7 H857.5 Z" fill="#5a5aa8"/>
<text x="860.5" y="212.8" font-size="6.8" font-weight="bold" fill="#fff" textLength="14.8" lengthAdjust="spacingAndGlyphs">34241</text>
<path d="M852.5 412.9 L857.5 408.5 H876 Q878.5 408.5 878.5 411 V414.7 Q878.5 417.2 876 417.2 H857.5 Z" fill="#111"/>
<text x="859.6" y="415.5" font-size="6.6" font-weight="bold" fill="#fff" textLength="17" lengthAdjust="spacingAndGlyphs">25.75</text>

<!-- MA legend -->
<text x="3" y="305.8" font-size="5.8" font-weight="bold" fill="#333" textLength="10.4" lengthAdjust="spacingAndGlyphs">MA</text>
<text x="14.8" y="305.8" font-size="5.8" fill="#7aaee0" textLength="6.8" lengthAdjust="spacingAndGlyphs">20</text>
<text x="23.6" y="305.8" font-size="5.8" fill="#74c074" textLength="7.1" lengthAdjust="spacingAndGlyphs">50</text>
<text x="32.3" y="305.8" font-size="5.8" fill="#e48a84" textLength="11.2" lengthAdjust="spacingAndGlyphs">200</text>
<g transform="translate(49.7 303.6)"><circle cx="0" cy="0" r="2.2" fill="none" stroke="#888" stroke-width="1.5"/><path d="M0 -3.4 V3.4 M-3.4 0 H3.4 M-2.4 -2.4 L2.4 2.4 M2.4 -2.4 L-2.4 2.4" stroke="#888" stroke-width="1.1"/><circle cx="0" cy="0" r="1" fill="#fff"/></g>
<path d="M57.7 301.3 L62.3 305.9 M62.3 301.3 L57.7 305.9" stroke="#777" stroke-width="1.3"/>
<text x="3" y="355.2" font-size="5.8" font-weight="bold" fill="#333" textLength="9.5" lengthAdjust="spacingAndGlyphs">RSI</text>
<text x="14.6" y="355.2" font-size="5.8" fill="#555" textLength="6.8" lengthAdjust="spacingAndGlyphs">14</text>
<g transform="translate(28.5 352.9)"><circle cx="0" cy="0" r="2.2" fill="none" stroke="#888" stroke-width="1.5"/><path d="M0 -3.4 V3.4 M-3.4 0 H3.4 M-2.4 -2.4 L2.4 2.4 M2.4 -2.4 L-2.4 2.4" stroke="#888" stroke-width="1.1"/><circle cx="0" cy="0" r="1" fill="#fff"/></g>
<path d="M36.2 350.6 L40.8 355.2 M40.8 350.6 L36.2 355.2" stroke="#777" stroke-width="1.3"/>

<!-- drawing tools -->
<rect x="690" y="317.8" width="162" height="20.5" fill="#fff"/>
<g stroke="#444" fill="none">
<path d="M696.3 323.9 L701.2 328.6" stroke-width="2"/>
<path d="M698.6 330.6 L703.2 330.6 L703.2 326 Z" fill="#444" stroke="none"/>
<path d="M710.5 331 C710.5 327.6 711.5 327 714.3 327 C717.6 327 718.3 326.3 718.3 322.6" stroke-width="1.5"/>
<path d="M722.5 321.7 H734.3 M722.5 332.6 H734.3" stroke="#555" stroke-width="1.1"/>
<path d="M722.5 324.4 H734.3 M722.5 330.2 H734.3" stroke="#555" stroke-width="1.5" stroke-dasharray="3 1.6"/>
<path d="M722.5 327.3 H734.3" stroke="#aaa" stroke-width="1.2" stroke-dasharray="3 1.6"/>
<path d="M737.3 321 V332.6" stroke="#555" stroke-width="0.9"/>
<path d="M737.3 332.6 H748.6" stroke="#999" stroke-width="0.7"/>
<path d="M737.5 332.4 L742.8 323 M737.5 332.4 L747 326.3" stroke="#555" stroke-width="0.8"/>
<circle cx="738" cy="332" r="0.9" fill="#444" stroke="none"/>
<line x1="751.4" y1="326.8" x2="762.8" y2="326.8" stroke="#777" stroke-width="1.5"/>
<line x1="767" y1="322.4" x2="776.2" y2="331.8" stroke="#444" stroke-width="1.2"/>
<circle cx="767" cy="322.4" r="1.3" fill="#333" stroke="none"/>
<circle cx="776.2" cy="331.8" r="1.3" fill="#333" stroke="none"/>
<rect x="781.6" y="322.6" width="8.9" height="8.9" stroke="#777" stroke-width="1.1"/>
<line x1="810.7" y1="330.7" x2="818.8" y2="323.1" stroke="#777" stroke-width="1"/>
<line x1="829.4" y1="322.2" x2="829.4" y2="332.9" stroke="#777" stroke-width="1.1"/>
<path d="M839.2 325 L843.6 329.6 M843.6 325 L839.2 329.6" stroke="#888" stroke-width="1.4"/>
</g>
<text x="795.2" y="328.8" font-size="5.6" fill="#777" textLength="10.4" lengthAdjust="spacingAndGlyphs">Abc</text>
<line x1="795.2" y1="329.8" x2="805.7" y2="329.8" stroke="#888" stroke-width="0.8"/>

<!-- RSI -->
<path d="M717.6 409 L723.4 411.3 L730.6 415.3 L737.2 411 L744.1 412.4 L744.1 408.9 L717.6 408.9 Z" fill="#bbb"/>
<path d="M0.0 398.3 L2.6 395.2 L9.3 397.5 L16.8 400.9 L23.3 401.7 L30.3 408.7 L36.8 410.0 L43.5 399.6 L50.0 390.5 L57.0 390.0 L63.5 388.7 L70.0 389.2 L77.2 397.5 L84.2 395.7 L90.7 403.0 L97.7 395.2 L104.2 393.9 L110.9 399.1 L117.9 393.9 L124.4 391.8 L131.4 387.2 L137.9 388.5 L144.6 389.2 L151.6 392.6 L158.1 394.4 L165.1 393.1 L171.8 384.6 L178.8 380.2 L185.3 380.7 L191.8 382.0 L199.0 378.9 L206.0 377.6 L212.5 377.6 L219.1 376.8 L226.1 378.1 L232.8 375.8 L239.0 375.0 L245.8 380.9 L252.8 378.4 L259.2 376.8 L266.2 375.5 L273.0 376.3 L279.4 374.5 L286.4 372.4 L292.9 373.2 L299.9 371.1 L306.4 371.1 L312.9 369.8 L320.1 374.5 L327.1 381.5 L333.9 383.5 L340.3 380.7 L347.3 380.7 L353.8 381.5 L360.3 379.6 L366.8 387.9 L373.3 389.2 L380.3 396.5 L387.0 395.7 L394.0 394.4 L401.0 391.0 L407.5 393.9 L414.2 410.0 L421.2 401.7 L427.7 398.3 L434.3 406.9 L440.7 410.0 L447.2 402.7 L453.7 402.7 L460.7 399.1 L467.4 391.3 L474.4 384.8 L481.4 384.8 L487.9 384.6 L494.6 382.0 L501.6 380.9 L508.6 387.2 L515.1 389.2 L521.8 383.5 L528.3 384.6 L535.3 392.6 L541.8 395.2 L548.8 396.5 L555.3 390.5 L562.0 387.2 L569.0 384.8 L575.5 384.6 L582.0 380.9 L589.0 378.9 L595.7 378.4 L602.7 380.2 L609.2 380.2 L616.2 379.4 L622.6 378.1 L629.4 375.0 L636.3 381.7 L643.8 385.4 L650.7 387.4 L657.3 388.9 L663.0 390.3 L670.2 386.0 L676.8 385.1 L683.2 388.9 L689.8 393.2 L696.7 393.7 L703.9 393.2 L710.5 403.8 L717.6 409.0 L723.4 411.3 L730.6 415.3 L737.2 411.0 L744.1 412.4" fill="none" stroke="#4a4a4a" stroke-width="1"/>
</svg>
</body></html>
